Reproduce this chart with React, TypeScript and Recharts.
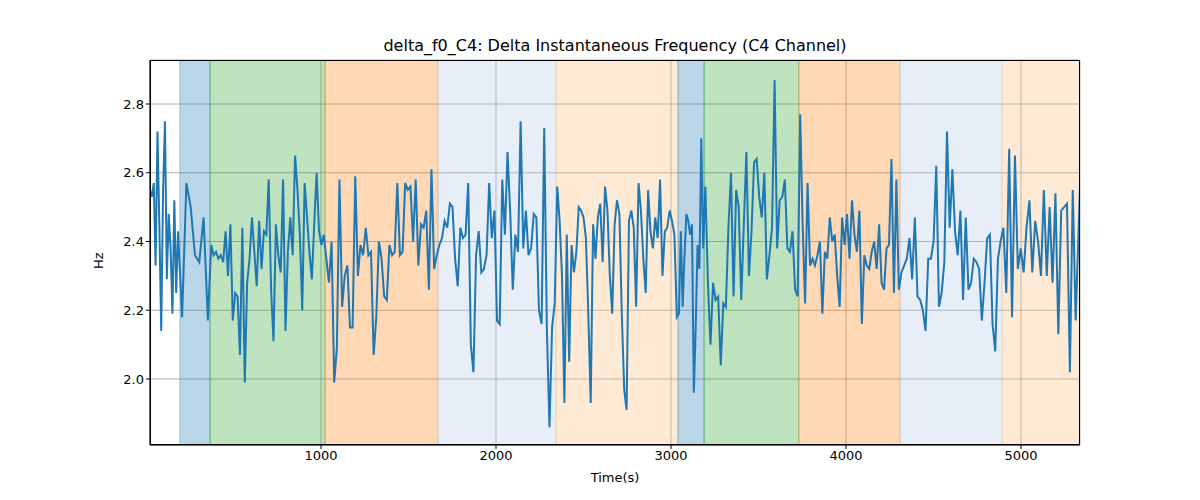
import React from 'react';
import { LineChart, Line, XAxis, YAxis, CartesianGrid, ReferenceArea, Label } from 'recharts';

const bounds = [23, 194, 366, 1023, 1669, 2343, 3040, 3189, 3731, 4309, 4891, 5337];
const shadeFills = ['#1f77b4', '#2ca02c', '#ff7f0e', '#aec7e8', '#ffbb78', '#1f77b4', '#2ca02c', '#ff7f0e', '#aec7e8', '#ffbb78'];

const seg0 = [2.55,2.53,2.57,2.33,2.72,2.45,2.14,2.55,2.75,2.29,2.48,2.38,2.19,2.52,2.25,2.43];
const seg1 = [2.18,2.57,2.5,2.36,2.34,2.47,2.17];
const seg2 = [2.39,2.36,2.37,2.35,2.36,2.34,2.43,2.3,2.45,2.17,2.25,2.24,2.07,2.44,1.99,2.28,2.35,2.47,2.37,2.27,2.46,2.32,2.43,2.42,2.58,2.26,2.11,2.45,2.36,2.31,2.58,2.14,2.37,2.47,2.36,2.65,2.55,2.42,2.2,2.57,2.47,2.37,2.29,2.45,2.6,2.43,2.39,2.42];
const seg3 = [2.35,2.28,2.4,1.99,2.09,2.58,2.21,2.3,2.33,2.15,2.15,2.59,2.3,2.39,2.36,2.44,2.36,2.37,2.07,2.18,2.4,2.35,2.24,2.23,2.39,2.36,2.37,2.57,2.36,2.37,2.57,2.55,2.56,2.4,2.58,2.33,2.45,2.44,2.49,2.26,2.61,2.32,2.36];
const seg4 = [2.39,2.41,2.46,2.44,2.51,2.5,2.35,2.27,2.44,2.41,2.42,2.57,2.1,2.02,2.36,2.43,2.31,2.32,2.36,2.57,2.41,2.49,2.17,2.16,2.58,2.42,2.66,2.49,2.26,2.42,2.37,2.75,2.38,2.49,2.36,2.38,2.48,2.47,2.2,2.16,2.73,2.15,1.86,2.15,2.22];
const seg5 = [2.56,2.46,2.3,1.93,2.42,2.05,2.39,2.31,2.37,2.5,2.49,2.47,2.41,2.19,1.93,2.45,2.35,2.47,2.51,2.34,2.56,2.49,2.3,2.19,2.45,2.52,2.48,2.19,1.97,1.91,2.46,2.49,2.44,2.21,2.57,2.49,2.35,2.25,2.55,2.43,2.38,2.47,2.41,2.58,2.3,2.43,2.44,2.49,2.46,2.42,2.18];
const seg6 = [2.19,2.43,2.21,2.36,2.48,2.46,2.42,2.45,1.96,2.15,2.39,2.32,2.7,2.38];
const seg7 = [2.56,2.28,2.1,2.28,2.23,2.24,2.04,2.22,2.21,2.44,2.6,2.24,2.55,2.5,2.23,2.45,2.66,2.3,2.43,2.63,2.64,2.53,2.47,2.6,2.29,2.36,2.44,2.87,2.38,2.52,2.53,2.58,2.38,2.37,2.43,2.26,2.24];
const seg8 = [2.77,2.45,2.22,2.57,2.33,2.35,2.33,2.36,2.4,2.19,2.37,2.35,2.47,2.4,2.42,2.3,2.21,2.47,2.39,2.48,2.35,2.52,2.42,2.37,2.49,2.16,2.36,2.33,2.32,2.37,2.4,2.32,2.45,2.28,2.26,2.38,2.39,2.64,2.25,2.58,2.26];
const seg9 = [2.31,2.33,2.35,2.41,2.29,2.47,2.24,2.23,2.2,2.14,2.35,2.35,2.4,2.62,2.21,2.25,2.34,2.72,2.44,2.61,2.43,2.36,2.49,2.23,2.47,2.26,2.28,2.35,2.34,2.32,2.17,2.28,2.41,2.42,2.16,2.08,2.35,2.4];
const seg10 = [2.44,2.25,2.67,2.18,2.65,2.32,2.38,2.31,2.44,2.52,2.31,2.46,2.4,2.3,2.55,2.3,2.5,2.28,2.54,2.13,2.49,2.5,2.51,2.02,2.55,2.17,2.56];

const segments = [seg0, seg1, seg2, seg3, seg4, seg5, seg6, seg7, seg8, seg9, seg10];
const data: { t: number; v: number }[] = [];
segments.forEach((s, k) => {
  const a = bounds[k], b = bounds[k + 1];
  const step = (b - a) / s.length;
  s.forEach((v, i) => data.push({ t: k === 0 ? a + i * step : a + (i + 0.5) * step, v }));
});
data[data.length - 1].t = 5337;

const xTicks = [1000, 2000, 3000, 4000, 5000];
const yTicks = [2.0, 2.2, 2.4, 2.6, 2.8];
const font = 'DejaVu Sans, sans-serif';

export default function App() {
  return (
    <div style={{ position: 'absolute', left: 0, top: 0, width: 1200, height: 500, background: '#fff', fontFamily: font }}>
      <div style={{ position: 'absolute', top: 36, left: 150, width: 930, textAlign: 'center', fontSize: 16, color: '#000' }}>
        delta_f0_C4: Delta Instantaneous Frequency (C4 Channel)
      </div>
      <LineChart width={1200} height={500} data={data} margin={{ top: 60, right: 120, bottom: 25, left: 90 }}>
        {shadeFills.map((f, i) => (
          <ReferenceArea key={i} x1={bounds[i + 1]} x2={bounds[i + 2]}
            fill={f} fillOpacity={0.3} stroke={f} strokeOpacity={0.4} ifOverflow="hidden" />
        ))}
        <CartesianGrid stroke="#b0b0b0" strokeWidth={1} />
        <XAxis dataKey="t" type="number" domain={[23, 5337]} ticks={xTicks} allowDataOverflow
          tick={{ fill: '#000', fontSize: 13, fontFamily: font }} tickLine={{ stroke: '#000' }} tickSize={4}
          axisLine={{ stroke: '#000' }} height={30}>
          <Label value="Time(s)" position="bottom" offset={-2} style={{ fill: '#000', fontSize: 13, fontFamily: font }} />
        </XAxis>
        <YAxis type="number" domain={[1.808, 2.928]} ticks={yTicks} allowDataOverflow width={60}
          tickFormatter={(v: number) => v.toFixed(1)}
          tick={{ fill: '#000', fontSize: 13, fontFamily: font }} tickLine={{ stroke: '#000' }} tickSize={4}
          axisLine={{ stroke: '#000' }}>
          <Label value="Hz" angle={-90} position="left" offset={-8} style={{ fill: '#000', fontSize: 13, fontFamily: font }} />
        </YAxis>
        <Line dataKey="v" type="linear" stroke="#1f77b4" strokeWidth={2} dot={false} isAnimationActive={false} />
      </LineChart>
      <div style={{ position: 'absolute', left: 150, top: 60, width: 930, height: 385, border: '1px solid #000', boxSizing: 'border-box', pointerEvents: 'none' }} />
    </div>
  );
}
